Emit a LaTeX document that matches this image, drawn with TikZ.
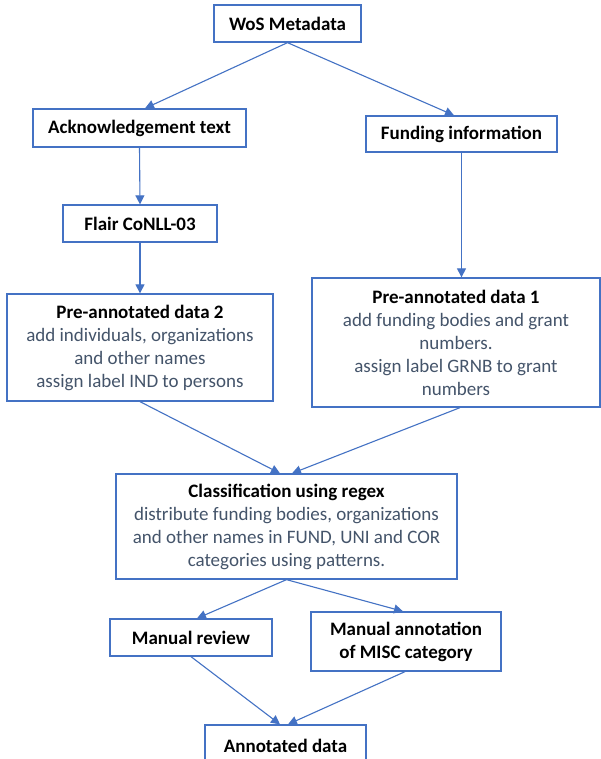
\documentclass[tikz,border=0pt]{standalone}
\usepackage{fontspec}
\setmainfont{Carlito}
\usetikzlibrary{arrows.meta,calc}
\definecolor{boxblue}{HTML}{4472C4}
\definecolor{desc}{HTML}{44546A}
\tikzset{
  box/.style={draw=boxblue, line width=1.3pt, fill=white, inner sep=0pt, align=center,
    font=\fontsize{19}{23}\selectfont},
  conn/.style={draw=boxblue, line width=1.1pt, -{Triangle[length=9pt,width=9pt]}},
}
\newcommand{\ttl}[1]{\textbf{#1}}
\newcommand{\dsc}[1]{\textcolor{desc}{#1}}
\begin{document}
\begin{tikzpicture}[x=1pt,y=-1pt]
\useasboundingbox (0,0) rectangle (601,759);
\fill[white] (0,0) rectangle (601,759);
\node[box, minimum width=147, minimum height=37] (wos) at (287.5,23.5) {\ttl{WoS Metadata}};
\node[box, minimum width=213, minimum height=38] (ack) at (139.5,128) {\ttl{Acknowledgement text}};
\node[box, minimum width=191, minimum height=36] (fund) at (461.5,134) {\ttl{Funding information}};
\node[box, minimum width=154, minimum height=37] (flair) at (140,223.5) {\ttl{Flair CoNLL-03}};
\node[box, minimum width=266, minimum height=107] (pre2) at (140,347.5)
  {\ttl{Pre-annotated data 2}\\\dsc{add individuals, organizations}\\\dsc{and other names}\\\dsc{assign label IND to persons}};
\node[box, minimum width=288, minimum height=129] (pre1) at (456,342.5)
  {\ttl{Pre-annotated data 1}\\\dsc{add funding bodies and grant}\\\dsc{numbers.}\\\dsc{assign label GRNB to grant}\\\dsc{numbers}};
\node[box, minimum width=341, minimum height=105] (cls) at (286.5,526.5)
  {\ttl{Classification using regex}\\\dsc{distribute funding bodies, organizations}\\\dsc{and other names in FUND, UNI and COR}\\\dsc{categories using patterns.}};
\node[box, minimum width=162, minimum height=37] (rev) at (191,637.5) {\ttl{Manual review}};
\node[box, minimum width=190, minimum height=59] (misc) at (406,641.5) {\ttl{Manual annotation}\\\ttl{of MISC category}};
\node[box, minimum width=161, minimum height=42] (ann) at (285.5,746) {\ttl{Annotated data}};
\draw[conn] (wos.south) -- ($(ack.north)+(5.5,0)$);
\draw[conn] (wos.south) -- ($(fund.north)+(-7.5,0)$);
\draw[conn] (ack.south) -- (flair.north);
\draw[conn] (fund.south) -- (fund.south |- pre1.north);
\draw[conn] (flair.south) -- (pre2.north);
\draw[conn] (pre2.south) -- ($(cls.north)+(-6.5,0)$);
\draw[conn] ($(pre1.south)+(4,0)$) -- ($(cls.north)+(5.5,0)$);
\draw[conn] (cls.south) -- ($(rev.north)+(6,0)$);
\draw[conn] (cls.south) -- ($(misc.north)+(-3,0)$);
\draw[conn] (rev.south) -- ($(ann.north)+(-5.5,0)$);
\draw[conn] ($(misc.south)+(-1,0)$) -- ($(ann.north)+(2.5,0)$);
\end{tikzpicture}
\end{document}
